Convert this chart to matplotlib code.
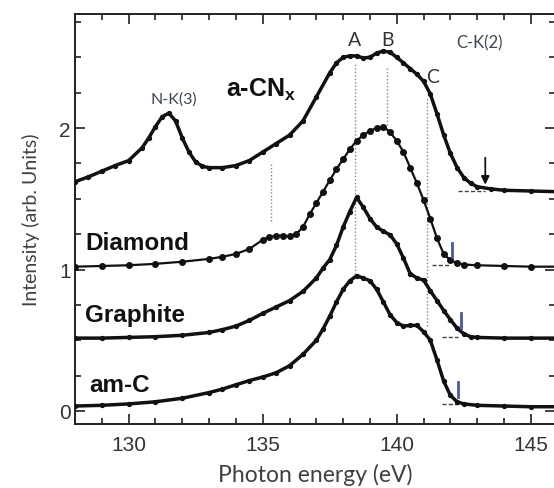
import matplotlib
matplotlib.use("Agg")
import matplotlib.pyplot as plt
from matplotlib.ticker import MultipleLocator

# ---- spectra (photon energy in eV, intensity in arb. units) ----
acnx_e = [128.0, 128.5, 129.0, 129.5, 130.0, 130.5, 130.75, 131.0, 131.25, 131.5,
          131.75, 132.0, 132.25, 132.5, 132.75, 133.0, 133.5, 134.0, 134.5, 135.0,
          135.5, 136.0, 136.5, 137.0, 137.5, 137.75, 138.0, 138.25, 138.5, 138.75,
          139.0, 139.25, 139.5, 139.75, 140.0, 140.25, 140.5, 140.75, 141.0, 141.25,
          141.5, 141.75, 142.0, 142.25, 142.5, 142.75, 143.0, 143.5, 144.0, 145.0, 146.0]
acnx_i = [1.62, 1.655, 1.695, 1.735, 1.77, 1.86, 1.93, 2.01, 2.08, 2.105,
          2.05, 1.93, 1.83, 1.76, 1.73, 1.72, 1.72, 1.735, 1.77, 1.83,
          1.89, 1.95, 2.05, 2.22, 2.39, 2.46, 2.50, 2.51, 2.51, 2.495,
          2.50, 2.53, 2.545, 2.535, 2.50, 2.46, 2.42, 2.38, 2.33, 2.24,
          2.10, 1.95, 1.82, 1.72, 1.65, 1.61, 1.585, 1.57, 1.56, 1.555, 1.55]

diamond_e = [128.0, 129.0, 130.0, 131.0, 132.0, 133.0, 133.5, 134.0, 134.5, 135.0,
             135.25, 135.5, 135.75, 136.0, 136.25, 136.5, 136.75, 137.0, 137.25, 137.5,
             137.75, 138.0, 138.25, 138.5, 138.75, 139.0, 139.25, 139.5, 139.75, 140.0,
             140.25, 140.5, 140.75, 141.0, 141.25, 141.5, 141.75, 142.0, 142.25, 142.5,
             143.0, 144.0, 145.0, 146.0]
diamond_i = [1.02, 1.025, 1.03, 1.04, 1.055, 1.075, 1.09, 1.11, 1.145, 1.21,
             1.23, 1.24, 1.24, 1.235, 1.25, 1.30, 1.39, 1.47, 1.55, 1.63,
             1.71, 1.78, 1.85, 1.91, 1.95, 1.98, 2.00, 2.01, 1.97, 1.91,
             1.83, 1.72, 1.61, 1.49, 1.36, 1.22, 1.11, 1.065, 1.045, 1.035,
             1.03, 1.025, 1.02, 1.02]

graphite_e = [128.0, 129.0, 130.0, 131.0, 132.0, 133.0, 133.5, 134.0, 134.5, 135.0,
              135.5, 136.0, 136.5, 137.0, 137.25, 137.5, 137.75, 138.0, 138.25, 138.5,
              138.75, 139.0, 139.25, 139.5, 139.75, 140.0, 140.25, 140.5, 140.75, 141.0,
              141.25, 141.5, 141.75, 142.0, 142.25, 142.5, 142.75, 143.0, 144.0, 145.0, 146.0]
graphite_i = [0.515, 0.515, 0.52, 0.525, 0.535, 0.555, 0.575, 0.60, 0.64, 0.69,
              0.735, 0.78, 0.845, 0.94, 1.01, 1.07, 1.17, 1.30, 1.41, 1.51,
              1.44, 1.36, 1.30, 1.27, 1.245, 1.18, 1.08, 0.97, 0.94, 0.925,
              0.85, 0.78, 0.71, 0.645, 0.585, 0.545, 0.525, 0.52, 0.515, 0.515, 0.515]

amc_e = [128.0, 129.0, 130.0, 131.0, 132.0, 133.0, 133.5, 134.0, 134.5, 135.0,
         135.5, 136.0, 136.5, 137.0, 137.25, 137.5, 137.75, 138.0, 138.25, 138.5,
         138.75, 139.0, 139.25, 139.5, 139.75, 140.0, 140.25, 140.5, 140.75, 141.0,
         141.25, 141.5, 141.75, 142.0, 142.25, 142.5, 143.0, 144.0, 145.0, 146.0]
amc_i = [0.035, 0.04, 0.05, 0.065, 0.09, 0.13, 0.155, 0.185, 0.215, 0.24,
         0.27, 0.32, 0.40, 0.50, 0.58, 0.67, 0.77, 0.86, 0.92, 0.955,
         0.94, 0.92, 0.86, 0.77, 0.68, 0.625, 0.60, 0.605, 0.605, 0.56,
         0.50, 0.36, 0.21, 0.11, 0.065, 0.05, 0.04, 0.035, 0.03, 0.03]

# feature markers: energy and vertical extent of the guide lines
guide_e = [135.3, 138.45, 139.64, 141.12]
guide_lo = [1.34, 0.97, 2.02, 0.60]
guide_hi = [1.76, 2.45, 2.44, 2.22]
peak_names = ["A", "B", "C"]
peak_pos = [(138.42, 2.587), (139.65, 2.587), (141.33, 2.325)]

# onset baselines (start, end, level) and onset ticks (energy, low, high)
base_segs = [(142.3, 143.3, 1.555), (141.3, 141.95, 1.03),
             (141.7, 142.3, 0.525), (141.7, 142.3, 0.05)]
onset_marks = [(142.05, 1.09, 1.19), (142.4, 0.59, 0.69), (142.3, 0.10, 0.205)]

sample_names = ["Diamond", "Graphite", "am-C"]
sample_pos = [(128.37, 1.145), (128.37, 0.636), (128.52, 0.141)]

xticks = [130, 135, 140, 145]
yticks = [0, 1, 2]

plt.rcParams["mathtext.fontset"] = "custom"
plt.rcParams["mathtext.bf"] = "Liberation Sans:bold"
plt.rcParams["mathtext.rm"] = "Liberation Sans"

fig = plt.figure(figsize=(5.54, 4.89), dpi=100)
ax = fig.add_axes([75 / 554, 64 / 489, 480 / 554, 410 / 489])

ink = "#111111"
ax.plot(acnx_e, acnx_i, color=ink, lw=2.5, marker="o", ms=2.8, zorder=3)
ax.plot(diamond_e, diamond_i, color=ink, lw=1.6, marker="o", ms=4.0, zorder=3)
ax.plot(graphite_e, graphite_i, color=ink, lw=2.5, marker="o", ms=2.8, zorder=3)
ax.plot(amc_e, amc_i, color=ink, lw=2.5, marker="o", ms=2.8, zorder=3)

for e, lo, hi in zip(guide_e, guide_lo, guide_hi):
    ax.plot([e, e], [lo, hi], color="#888888", lw=1.0, ls=(0, (1, 1.5)), zorder=2)

for x0, x1, lvl in base_segs:
    ax.plot([x0, x1], [lvl, lvl], color="#444444", lw=1.0, ls=(0, (3, 1.5)), zorder=2)

for e, lo, hi in onset_marks:
    ax.plot([e, e], [lo, hi], color="#4a5a96", lw=2.0, zorder=4)

ax.annotate("", xy=(143.3, 1.60), xytext=(143.3, 1.79),
            arrowprops=dict(arrowstyle="-|>", color=ink, lw=1.3,
                            mutation_scale=12, shrinkA=0, shrinkB=0))

for name, (px, py) in zip(peak_names, peak_pos):
    ax.text(px, py, name, ha="center", va="baseline", fontsize=14,
            family="Lato", color="#333333")

ax.text(131.7, 2.21, "N-K(3)", ha="center", va="center", fontsize=11.5,
        family="Lato", color="#3c4656")
ax.text(143.09, 2.604, "C-K(2)", ha="center", va="center", fontsize=12,
        family="Lato", color="#3c4656")

ax.text(133.62, 2.226, r"a-CN$_{\mathbf{x}}$", ha="left", va="baseline",
        fontsize=18, family="Liberation Sans", fontweight="bold", color=ink)
for name, (px, py) in zip(sample_names, sample_pos):
    ax.text(px, py, name, ha="left", va="baseline", fontsize=17.5,
            family="Liberation Sans", fontweight="bold", color=ink)

ax.set_xlim(128.0, 145.9)
ax.set_ylim(-0.092, 2.806)
ax.set_xticks(xticks)
ax.set_yticks(yticks)
ax.xaxis.set_minor_locator(MultipleLocator(1))
ax.yaxis.set_minor_locator(MultipleLocator(0.25))
ax.tick_params(which="both", direction="in", top=True, right=True,
               color="#222222", width=1.2)
ax.tick_params(which="major", length=7)
ax.tick_params(which="minor", length=4)
ax.tick_params(axis="x", which="major", pad=8, labelsize=15, labelcolor="#333333")
ax.tick_params(axis="y", which="major", pad=3, labelsize=15, labelcolor="#333333")
for lbl in ax.get_xticklabels() + ax.get_yticklabels():
    lbl.set_family("Liberation Sans")
for sp in ax.spines.values():
    sp.set_linewidth(1.4)
    sp.set_color("#222222")

ax.set_xlabel("Photon energy (eV)", fontsize=16.5, family="Lato",
              color="#404040", labelpad=6)
ax.set_ylabel("Intensity (arb. Units)", fontsize=14, family="Lato",
              color="#404040", labelpad=14)

fig.savefig("out.png", dpi=100)
